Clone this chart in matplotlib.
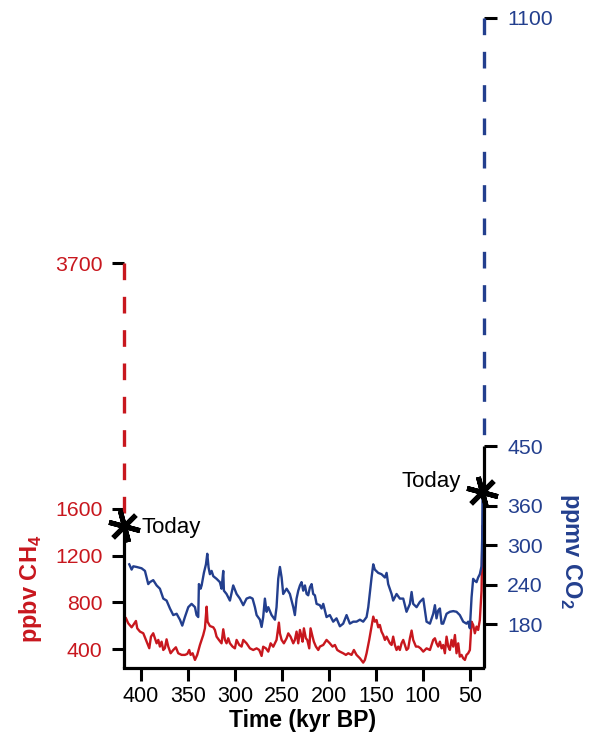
import matplotlib
matplotlib.use("Agg")
import matplotlib.pyplot as plt

plt.rcParams['font.family'] = ['Liberation Sans', 'DejaVu Sans']
plt.rcParams['mathtext.fontset'] = 'custom'
plt.rcParams['mathtext.rm'] = 'Liberation Sans'
plt.rcParams['mathtext.bf'] = 'Liberation Sans:bold'

RED = '#c8171e'
BLUE = '#233f8e'

# ---------------- data ----------------
co2_time = [412.4, 409.9, 408.1, 404.6, 399.3, 395.7, 392.2, 390.4, 386.9, 383.3, 379.8, 376.2,
            372.7, 369.1, 365.6, 362.0, 358.5, 356.0, 353.2, 349.6, 346.1, 342.5, 340.8, 339.0,
            338.3, 336.5, 335.4, 333.0, 330.8, 329.4, 328.0, 326.6, 324.8, 323.0, 319.5, 316.0,
            314.2, 312.4, 311.7, 308.9, 305.3, 301.8, 298.2, 294.7, 291.1, 287.6, 284.0, 281.2,
            278.7, 276.9, 273.4, 271.6, 269.9, 268.1, 266.3, 264.5, 261.0, 257.4, 255.7, 253.9,
            252.1, 250.3, 248.6, 245.0, 241.5, 237.9, 236.2, 234.4, 232.6, 230.8, 229.1, 227.3,
            225.5, 223.7, 222.0, 220.2, 218.4, 216.7, 214.9, 213.1, 209.6, 207.8, 206.0, 202.5,
            199.0, 195.4, 191.9, 188.3, 184.8, 181.2, 177.7, 174.1, 170.6, 167.0, 163.5, 159.9,
            158.1, 154.6, 152.8, 151.1, 147.5, 144.0, 140.4, 138.6, 136.9, 133.3, 131.6, 128.0,
            124.5, 120.9, 117.4, 113.8, 112.0, 110.3, 106.7, 103.2, 99.6, 96.1, 92.5, 89.0,
            87.2, 85.5, 83.7, 81.9, 80.1, 78.4, 74.8, 71.3, 67.7, 64.2, 60.7, 57.1,
            53.6, 51.8, 50.0, 48.2, 46.5, 44.7, 42.9, 41.2, 39.4, 37.6, 36.9, 36.5]
co2_ppmv = [271, 263, 268, 267, 265, 261, 241, 244, 247, 239, 234, 219,
            216, 204, 194, 196, 187, 178, 191, 206, 211, 206, 194, 191,
            241, 234, 239, 258, 271, 287, 266, 256, 261, 253, 249, 244,
            234, 261, 231, 226, 216, 239, 226, 219, 209, 219, 221, 219,
            206, 194, 187, 176, 191, 219, 199, 206, 194, 187, 206, 249,
            267, 251, 226, 234, 226, 206, 194, 219, 231, 239, 244, 231,
            239, 226, 224, 236, 241, 226, 224, 211, 209, 204, 211, 191,
            194, 184, 189, 177, 181, 194, 181, 184, 184, 187, 184, 191,
            206, 251, 271, 263, 258, 256, 251, 258, 241, 226, 216, 226,
            219, 219, 199, 211, 229, 211, 206, 214, 219, 184, 181, 196,
            209, 189, 201, 204, 181, 181, 196, 199, 200, 199, 194, 184,
            181, 184, 174, 221, 249, 246, 244, 251, 256, 268, 310, 380]

ch4_time = [415.9, 413.5, 409.9, 408.1, 405.3, 403.9, 401.0, 397.5, 394.0, 391.1, 389.3, 386.9,
            385.1, 383.3, 381.5, 379.8, 378.0, 376.2, 374.5, 372.7, 370.9, 368.4, 365.6, 362.8,
            360.3, 356.7, 353.2, 350.7, 348.6, 347.1, 345.0, 342.5, 340.1, 337.2, 335.4, 333.7,
            331.9, 330.1, 329.1, 326.6, 323.0, 321.3, 319.5, 317.0, 314.2, 312.4, 310.6, 308.9,
            307.1, 305.3, 302.5, 300.0, 298.2, 295.4, 292.9, 291.1, 287.6, 284.0, 280.5, 276.9,
            274.1, 271.6, 269.9, 267.0, 264.5, 262.0, 259.2, 255.7, 253.2, 252.1, 250.3, 247.9,
            245.0, 243.2, 240.8, 237.9, 236.2, 234.4, 232.6, 230.8, 229.1, 228.0, 226.6, 224.5,
            223.0, 220.9, 219.5, 217.4, 216.0, 213.8, 211.3, 209.6, 206.0, 202.5, 199.0, 196.1,
            193.6, 191.1, 188.3, 184.8, 181.9, 179.4, 175.9, 173.4, 170.6, 167.0, 163.5, 161.7,
            159.9, 157.1, 154.6, 152.8, 151.1, 149.3, 147.5, 145.8, 144.0, 142.2, 140.4, 138.6,
            136.9, 135.1, 133.3, 131.6, 129.8, 128.0, 126.2, 124.5, 122.7, 120.9, 119.1, 117.4,
            115.6, 113.8, 112.0, 110.3, 107.4, 105.0, 102.5, 99.6, 96.1, 92.5, 89.0, 87.2,
            85.5, 83.7, 81.9, 80.1, 78.4, 76.6, 74.8, 73.0, 71.3, 69.5, 67.7, 65.9,
            64.2, 62.4, 60.7, 58.9, 57.1, 55.3, 53.6, 51.8, 50.0, 48.2, 46.5, 44.7,
            42.9, 41.2, 39.4, 37.6, 36.5]
ch4_ppbv = [665, 622, 588, 608, 642, 579, 551, 537, 466, 409, 508, 537,
            494, 451, 480, 423, 465, 394, 409, 485, 423, 366, 394, 417,
            366, 352, 352, 360, 394, 352, 366, 309, 352, 437, 480, 522,
            579, 764, 636, 599, 588, 565, 508, 480, 451, 571, 480, 451,
            494, 451, 423, 408, 480, 437, 423, 480, 451, 408, 394, 408,
            394, 343, 422, 408, 380, 451, 422, 480, 628, 536, 480, 451,
            494, 536, 508, 451, 480, 551, 451, 565, 508, 465, 579, 494,
            480, 408, 579, 508, 465, 423, 394, 423, 437, 480, 451, 423,
            437, 394, 380, 366, 352, 366, 352, 394, 352, 323, 286, 309,
            366, 480, 594, 679, 636, 650, 588, 608, 551, 522, 480, 508,
            480, 451, 437, 508, 437, 394, 423, 394, 451, 480, 437, 394,
            408, 494, 560, 480, 423, 423, 408, 380, 408, 394, 480, 494,
            451, 423, 465, 408, 437, 366, 508, 423, 394, 480, 423, 522,
            366, 451, 337, 352, 323, 309, 352, 366, 394, 636, 608, 537,
            594, 565, 650, 900, 1450]

x_ticks = [400, 350, 300, 250, 200, 150, 100, 50]
ch4_ticks = [400, 800, 1200, 1600, 3700]
co2_ticks = [180, 240, 300, 360, 450, 1100]
ch4_today = 1450
co2_today = 380
ch4_solid_top = 1450
co2_solid_top = 450

# ---------------- figure ----------------
W, H = 595, 734
fig = plt.figure(figsize=(W / 100, H / 100), dpi=100)
L, R, B, T = 124, 483.5, 668, 12
ax = fig.add_axes([L / W, (H - B) / H, (R - L) / W, (B - T) / H])
ax2 = ax.twinx()

ax.set_xlim(418, 35.5)
ax.set_ylim(240, 5847)
ax2.set_ylim(113.7, 1109)

for a in (ax, ax2):
    for s in ('left', 'right', 'top'):
        a.spines[s].set_visible(False)
    a.patch.set_visible(False)
ax2.spines['bottom'].set_visible(False)
ax.spines['bottom'].set_linewidth(2.3)
ax.spines['bottom'].set_capstyle('projecting')

ax.plot(ch4_time, ch4_ppbv, color=RED, lw=1.7, zorder=3)
ax2.plot(co2_time, co2_ppmv, color=BLUE, lw=1.7, zorder=3)

# custom spines
yt = ax.get_yaxis_transform()
ax.plot([0, 0], [240, ch4_solid_top], transform=yt, color='black', lw=2.3,
        clip_on=False, solid_capstyle='butt', zorder=5)
ax.plot([0, 0], [ch4_ticks[-1], ch4_solid_top], transform=yt, color=RED, lw=2.4,
        ls=(0, (5, 5)), clip_on=False, zorder=5)
yt2 = ax2.get_yaxis_transform()
ax2.plot([1, 1], [113.7, co2_solid_top], transform=yt2, color='black', lw=2.3,
         clip_on=False, solid_capstyle='butt', zorder=5)
ax2.plot([1, 1], [co2_ticks[-1], co2_solid_top], transform=yt2, color=BLUE, lw=2.4,
         ls=(0, (5, 5)), clip_on=False, zorder=5)

# ticks
ax.set_xticks(x_ticks)
ax.set_xticklabels([str(v) for v in x_ticks])
ax.tick_params(axis='x', direction='out', length=9, width=2.2, pad=4, labelsize=15.5)
ax.set_yticks(ch4_ticks)
ax.set_yticklabels([str(v) for v in ch4_ticks])
ax.tick_params(axis='y', direction='out', length=9, width=2.2, pad=6.5, labelsize=15.3,
               labelcolor=RED)
for tk, v in zip(ax.yaxis.get_major_ticks(), ch4_ticks):
    tk.tick1line.set_color('black' if v < ch4_solid_top else RED)
ax2.set_yticks(co2_ticks)
ax2.set_yticklabels([str(v) for v in co2_ticks])
ax2.tick_params(axis='y', direction='out', length=9, width=2.2, pad=8, labelsize=15.3,
                labelcolor=BLUE)
for tk, v in zip(ax2.yaxis.get_major_ticks(), co2_ticks):
    tk.tick2line.set_color('black' if v < co2_solid_top else BLUE)
ax2.tick_params(axis='x', length=0)

# today markers
ax.plot([418], [ch4_today], marker=(6, 2, 15), ms=23, mew=3.6, color='black',
        clip_on=False, zorder=10)
ax2.plot([37.2], [co2_today], marker=(6, 2, 15), ms=23, mew=3.6, color='black',
         clip_on=False, zorder=10)

def fx(px):
    return px / W

def fy(py):
    return (H - py) / H

fig.text(fx(142), fy(528), 'Today', fontsize=16, ha='left', va='center')
fig.text(fx(461), fy(482), 'Today', fontsize=16, ha='right', va='center')

fig.text(fx(31), fy(589), r'ppbv CH$_\mathbf{4}$', color=RED, fontsize=17,
         fontweight='bold', rotation=90, ha='center', va='center')
fig.text(fx(571), fy(551), r'ppmv CO$_\mathbf{2}$', color=BLUE, fontsize=17,
         fontweight='bold', rotation=270, ha='center', va='center')
fig.text(fx(303), fy(720), 'Time (kyr BP)', fontsize=16.5, fontweight='bold',
         ha='center', va='center')

fig.savefig('out.png', dpi=100)
